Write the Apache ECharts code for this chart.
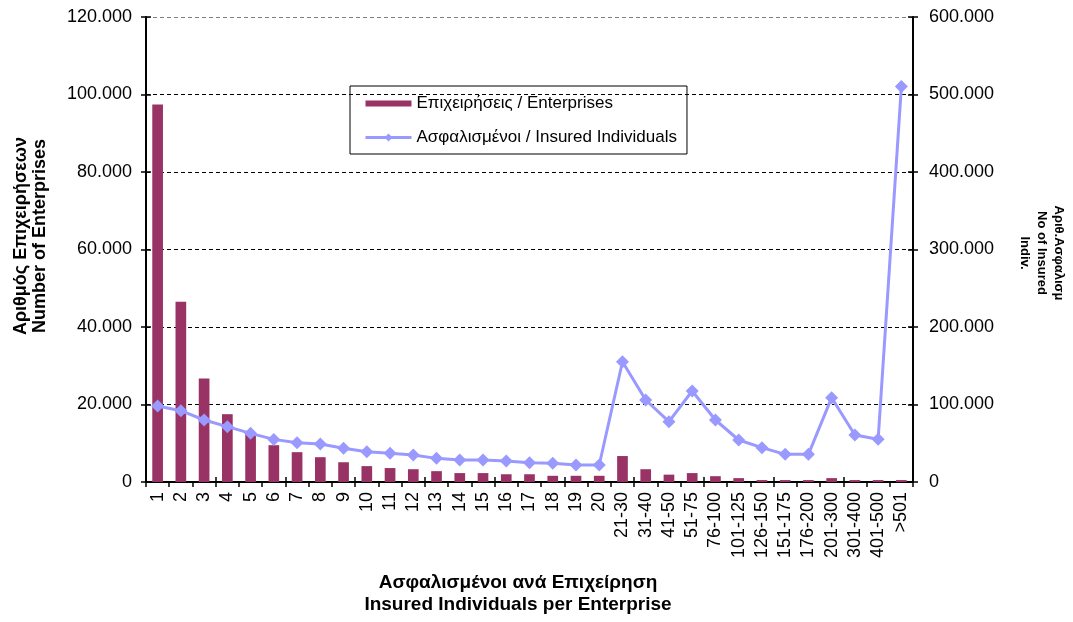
<!DOCTYPE html>
<html>
<head>
<meta charset="utf-8">
<script src="https://cdn.jsdelivr.net/npm/echarts@6/dist/echarts.min.js"></script>
<style>
html,body{margin:0;padding:0;background:#fff;}
#chart{width:1073px;height:622px;}
</style>
</head>
<body>
<div id="chart"></div>
<script>
const categories = ['1','2','3','4','5','6','7','8','9','10','11','12','13','14','15','16','17','18','19','20',
  '21-30','31-40','41-50','51-75','76-100','101-125','126-150','151-175','176-200','201-300','301-400','401-500','>501'];
const enterprises = [97400,46500,26700,17500,12600,9500,7700,6400,5100,4100,3600,3300,2800,2300,2300,2000,2000,1600,1600,1600,
  6700,3300,1900,2300,1500,1000,500,500,500,1000,500,500,500];
const insured = [98000,92000,80000,71400,62800,55000,50700,49000,43500,39100,37000,34800,30500,28400,28400,27100,24900,24100,21900,21900,
  155200,105800,77800,117400,80000,54200,44300,35700,35700,108800,60600,55100,510300];
const seriesNames = ['Επιχειρήσεις / Enterprises', 'Ασφαλισμένοι / Insured Individuals'];
const xTitle = 'Ασφαλισμένοι ανά Επιχείρηση\nInsured Individuals per Enterprise';
const leftTitle = 'Αριθμός Επιχειρήσεων\nNumber of Enterprises';
const rightTitle = 'Αριθ.Ασφαλισμ\nNo of Insured\nIndiv.';

const FONT = '"Liberation Sans", Arial, sans-serif';
const fmt = v => v === 0 ? '0' : (v/1000).toFixed(0) + '.000';
const chart = echarts.init(document.getElementById('chart'));
const gridLineColors = ['#000','#000','#000','#000','#000','#000','#808080'];
const baseY = {
  type: 'value', min: 0,
  axisLine: {show: true, lineStyle: {color: '#000', width: 2}},
  axisTick: {show: true, length: 5, lineStyle: {color: '#000', width: 1.5}},
  axisLabel: {color: '#000', fontSize: 18, fontFamily: FONT, formatter: fmt},
  splitLine: {show: false}
};
chart.setOption({
  animation: false,
  backgroundColor: '#fff',
  textStyle: {fontFamily: FONT},
  grid: {left: 146, right: 160, top: 17, bottom: 140, containLabel: false},
  legend: {
    orient: 'vertical', left: 350, top: 86,
    borderColor: '#000', borderWidth: 1, padding: [9, 10, 8, 14],
    itemGap: 17, itemWidth: 46, itemHeight: 10,
    textStyle: {color: '#000', fontSize: 17, fontFamily: FONT},
    data: [
      {name: seriesNames[0], icon: 'path://M0,0h0.01v0.01h-0.01zM0,2h46v6h-46zM46,9.99h0.01v0.01h-0.01z'},
      {name: seriesNames[1], lineStyle: {width: 3, color: '#9999FF'}}
    ]
  },
  xAxis: [{
    type: 'category', data: categories, position: 'bottom',
    axisLine: {show: true, lineStyle: {color: '#000', width: 2}},
    axisTick: {show: true, length: 5, lineStyle: {color: '#000', width: 1.5}},
    axisLabel: {interval: 0, rotate: 90, color: '#000', fontSize: 18, fontFamily: FONT, margin: 10}
  }, {
    type: 'category', data: categories, position: 'bottom', offset: 0,
    axisLine: {show: false},
    axisTick: {show: true, inside: true, length: 5, lineStyle: {color: '#000', width: 1.5}},
    axisLabel: {show: false}
  }],
  yAxis: [
    Object.assign({}, baseY, {position: 'left', max: 120000, interval: 20000,
      axisLabel: Object.assign({}, baseY.axisLabel, {margin: 14}),
      splitLine: {show: true, lineStyle: {color: gridLineColors, type: [4, 3], width: 1}}}),
    Object.assign({}, baseY, {position: 'right', max: 600000, interval: 100000,
      axisLabel: Object.assign({}, baseY.axisLabel, {margin: 16})}),
    Object.assign({}, baseY, {position: 'left', max: 120000, interval: 20000, offset: 0,
      axisLine: {show: false}, axisLabel: {show: false},
      axisTick: {show: true, inside: true, length: 5, lineStyle: {color: '#000', width: 1.5}}}),
    Object.assign({}, baseY, {position: 'right', max: 600000, interval: 100000, offset: 0,
      axisLine: {show: false}, axisLabel: {show: false},
      axisTick: {show: true, inside: true, length: 5, lineStyle: {color: '#000', width: 1.5}}})
  ],
  series: [{
    name: seriesNames[0], type: 'bar', xAxisIndex: 0, yAxisIndex: 0,
    data: enterprises, barWidth: '46%',
    itemStyle: {color: '#993366'}, z: 2
  }, {
    name: seriesNames[1], type: 'line', xAxisIndex: 0, yAxisIndex: 1,
    data: insured, symbol: 'diamond', symbolSize: 13,
    lineStyle: {color: '#9999FF', width: 3},
    itemStyle: {color: '#9999FF'}, z: 3
  }],
  graphic: [
    {type: 'text', x: 518, y: 594, style: {text: xTitle, font: 'bold 19px ' + FONT, fill: '#000', align: 'center', verticalAlign: 'middle', lineHeight: 22}},
    {type: 'text', x: 31, y: 236, rotation: Math.PI/2, style: {text: leftTitle, font: 'bold 18px ' + FONT, fill: '#000', align: 'center', verticalAlign: 'middle', lineHeight: 19}},
    {type: 'text', x: 1042, y: 253, rotation: -Math.PI/2, style: {text: rightTitle, font: 'bold 13px ' + FONT, fill: '#000', align: 'center', verticalAlign: 'middle', lineHeight: 17}}
  ]
});
</script>
</body>
</html>
